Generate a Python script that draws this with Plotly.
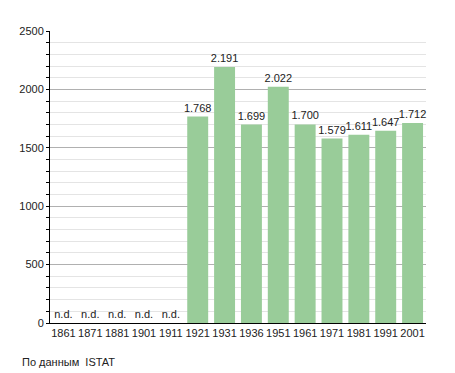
import plotly.graph_objects as go

years = ["1861", "1871", "1881", "1901", "1911", "1921", "1931", "1936",
         "1951", "1961", "1971", "1981", "1991", "2001"]
population = [None, None, None, None, None, 1768, 2191, 1699,
              2022, 1700, 1579, 1611, 1647, 1712]
y_ticks = [0, 500, 1000, 1500, 2000, 2500]

bar_y = [v if v is not None else 0 for v in population]
bar_text = ["n.d." if v is None else f"{v:,}".replace(",", ".") for v in population]

fig = go.Figure(go.Bar(
    x=years, y=bar_y, text=bar_text, textposition="outside",
    constraintext="none",
    marker=dict(color="#99cc99", line=dict(width=0)),
    textfont=dict(family="Liberation Sans, Arial, sans-serif", size=11, color="#222"),
    cliponaxis=False, width=0.78,
))

fig.update_layout(
    width=455, height=373,
    margin=dict(l=42, r=37, t=23, b=58),
    paper_bgcolor="white", plot_bgcolor="white",
    font=dict(family="Liberation Sans, Arial, sans-serif", size=11, color="#222"),
    showlegend=False,
    bargap=0.22,
    annotations=[dict(text="По данным  ISTAT", xref="paper", yref="paper",
                      x=-0.08, y=-0.134, xanchor="left", yanchor="middle",
                      showarrow=False, font=dict(size=11))],
)
fig.update_yaxes(
    range=[0, 2500], tickvals=y_ticks, showline=True, linecolor="black", linewidth=1,
    ticks="outside", ticklen=3, tickcolor="black",
    showgrid=True, gridcolor="#b0b0b0", gridwidth=1, zeroline=False,
    minor=dict(dtick=100, showgrid=True, gridcolor="#e4e4e4", ticks="outside",
               ticklen=3, tickcolor="black"),
)
fig.update_xaxes(
    showline=True, linecolor="black", linewidth=1, ticks="", tickangle=0,
)
fig.write_html("out.html")
